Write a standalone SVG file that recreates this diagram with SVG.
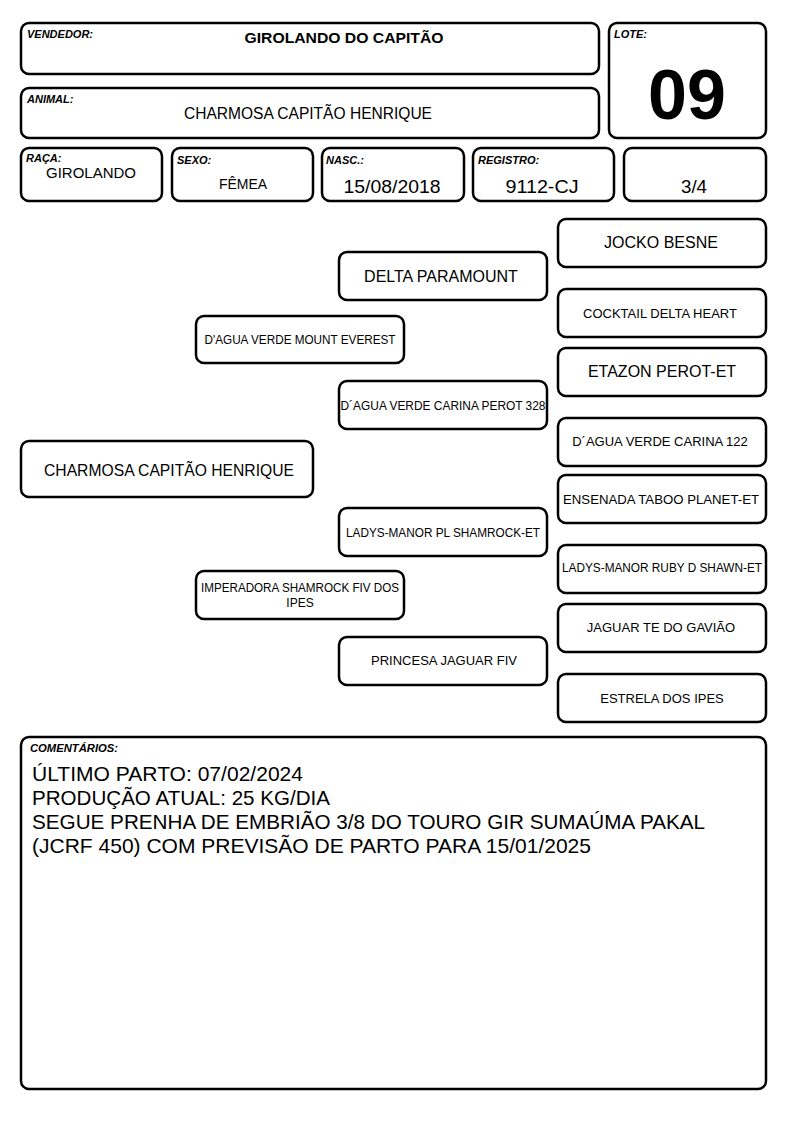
<svg xmlns="http://www.w3.org/2000/svg" width="794" height="1123" viewBox="0 0 794 1123">
<style>
.b{fill:#fff;stroke:#000;stroke-width:2.5}
text{font-family:"Liberation Sans",Arial,sans-serif;fill:#000}
.lb{font-size:11px;font-weight:bold;font-style:italic}
.c{text-anchor:middle}
</style>
<rect width="794" height="1123" fill="#fff"/>
<g id="vendedor"><rect class="b" x="21" y="23" width="578" height="51" rx="8"/><text class="lb" x="27" y="38" textLength="66" lengthAdjust="spacingAndGlyphs">VENDEDOR:</text><text class="c" x="344" y="43" font-size="15.5" font-weight="bold" textLength="199" lengthAdjust="spacingAndGlyphs">GIROLANDO DO CAPITÃO</text></g>
<g id="lote"><rect class="b" x="609" y="23" width="157" height="115" rx="8"/><text class="lb" x="614" y="38">LOTE:</text><text class="c" x="687" y="119" font-size="70" font-weight="bold">09</text></g>
<g id="animal"><rect class="b" x="21" y="88" width="578" height="50" rx="8"/><text class="lb" x="27" y="103">ANIMAL:</text><text class="c" x="308" y="119" font-size="16" textLength="248" lengthAdjust="spacingAndGlyphs">CHARMOSA CAPITÃO HENRIQUE</text></g>
<g id="raca"><rect class="b" x="21" y="148" width="141" height="53" rx="8"/><text class="lb" x="26" y="162">RAÇA:</text><text class="c" x="91" y="178" font-size="15">GIROLANDO</text></g>
<g id="sexo"><rect class="b" x="172" y="148" width="141" height="53" rx="8"/><text class="lb" x="177" y="164">SEXO:</text><text class="c" x="243" y="189" font-size="14">FÊMEA</text></g>
<g id="nasc"><rect class="b" x="322" y="148" width="142" height="53" rx="8"/><text class="lb" x="326" y="164">NASC.:</text><text class="c" x="392" y="193" font-size="18" textLength="97" lengthAdjust="spacingAndGlyphs">15/08/2018</text></g>
<g id="registro"><rect class="b" x="473" y="148" width="141" height="53" rx="8"/><text class="lb" x="478" y="164">REGISTRO:</text><text class="c" x="542" y="193" font-size="18" textLength="73" lengthAdjust="spacingAndGlyphs">9112-CJ</text></g>
<g id="grau"><rect class="b" x="624" y="148" width="142" height="53" rx="8"/><text class="c" x="694" y="193" font-size="18" textLength="26" lengthAdjust="spacingAndGlyphs">3/4</text></g>

<g id="connectors"></g>

<g id="p0"><rect class="b" x="21" y="441" width="292" height="56" rx="8"/><text class="c" x="169" y="476" font-size="16.5" textLength="250" lengthAdjust="spacingAndGlyphs">CHARMOSA CAPITÃO HENRIQUE</text></g>
<g id="p1"><rect class="b" x="196" y="316" width="208" height="47" rx="8"/><text class="c" x="300" y="344" font-size="12" textLength="191" lengthAdjust="spacingAndGlyphs">D'AGUA VERDE MOUNT EVEREST</text></g>
<g id="p2"><rect class="b" x="196" y="571" width="208" height="48" rx="8"/><text class="c" x="300" y="592" font-size="12" textLength="198" lengthAdjust="spacingAndGlyphs">IMPERADORA SHAMROCK FIV DOS</text><text class="c" x="300" y="607" font-size="12">IPES</text></g>
<g id="p3"><rect class="b" x="339" y="252" width="208" height="48" rx="8"/><text class="c" x="441" y="282" font-size="16">DELTA PARAMOUNT</text></g>
<g id="p4"><rect class="b" x="339" y="381" width="208" height="48" rx="8"/><text class="c" x="443" y="410" font-size="12" textLength="205" lengthAdjust="spacingAndGlyphs">D´AGUA VERDE CARINA PEROT 328</text></g>
<g id="p5"><rect class="b" x="339" y="508" width="208" height="48" rx="8"/><text class="c" x="443" y="537" font-size="12" textLength="194" lengthAdjust="spacingAndGlyphs">LADYS-MANOR PL SHAMROCK-ET</text></g>
<g id="p6"><rect class="b" x="339" y="637" width="208" height="48" rx="8"/><text class="c" x="444" y="665" font-size="13">PRINCESA JAGUAR FIV</text></g>
<g id="p7"><rect class="b" x="558" y="219" width="208" height="48" rx="8"/><text class="c" x="661" y="248" font-size="16">JOCKO BESNE</text></g>
<g id="p8"><rect class="b" x="558" y="289" width="208" height="48" rx="8"/><text class="c" x="660" y="318" font-size="13">COCKTAIL DELTA HEART</text></g>
<g id="p9"><rect class="b" x="558" y="348" width="208" height="48" rx="8"/><text class="c" x="662" y="377" font-size="16">ETAZON PEROT-ET</text></g>
<g id="p10"><rect class="b" x="558" y="418" width="208" height="48" rx="8"/><text class="c" x="660" y="446" font-size="13">D´AGUA VERDE CARINA 122</text></g>
<g id="p11"><rect class="b" x="558" y="475" width="208" height="48" rx="8"/><text class="c" x="661" y="504" font-size="13" textLength="196" lengthAdjust="spacingAndGlyphs">ENSENADA TABOO PLANET-ET</text></g>
<g id="p12"><rect class="b" x="558" y="545" width="208" height="48" rx="8"/><text class="c" x="662" y="572" font-size="12" textLength="200" lengthAdjust="spacingAndGlyphs">LADYS-MANOR RUBY D SHAWN-ET</text></g>
<g id="p13"><rect class="b" x="558" y="604" width="208" height="48" rx="8"/><text class="c" x="661" y="632" font-size="13">JAGUAR TE DO GAVIÃO</text></g>
<g id="p14"><rect class="b" x="558" y="674" width="208" height="48" rx="8"/><text class="c" x="662" y="703" font-size="13">ESTRELA DOS IPES</text></g>

<g id="comentarios"><rect class="b" x="21" y="737" width="745" height="352" rx="8"/><text class="lb" x="30" y="752" textLength="88" lengthAdjust="spacingAndGlyphs">COMENTÁRIOS:</text>
<text x="32" y="781" font-size="21" textLength="271" lengthAdjust="spacingAndGlyphs">ÚLTIMO PARTO: 07/02/2024</text>
<text x="32" y="805" font-size="21" textLength="298" lengthAdjust="spacingAndGlyphs">PRODUÇÃO ATUAL: 25 KG/DIA</text>
<text x="32" y="829" font-size="21" textLength="673" lengthAdjust="spacingAndGlyphs">SEGUE PRENHA DE EMBRIÃO 3/8 DO TOURO GIR SUMAÚMA PAKAL</text>
<text x="32" y="853" font-size="21" textLength="559" lengthAdjust="spacingAndGlyphs">(JCRF 450) COM PREVISÃO DE PARTO PARA 15/01/2025</text></g>
</svg>
